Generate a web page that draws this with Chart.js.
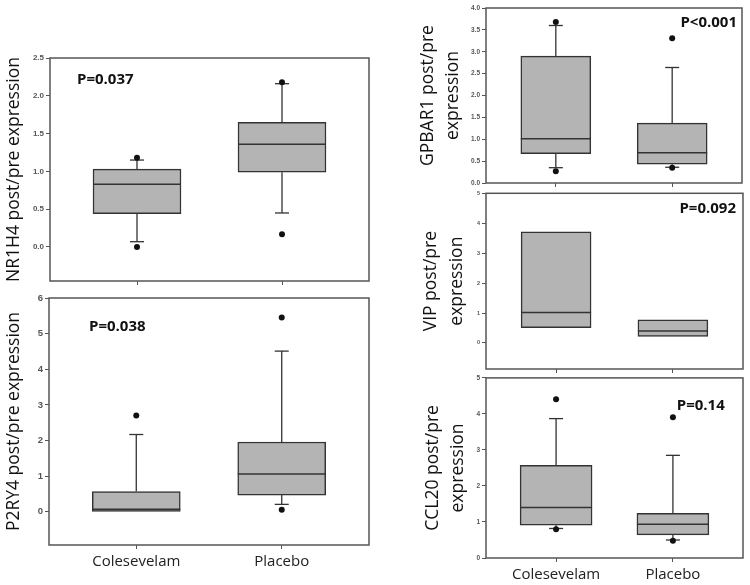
<!DOCTYPE html>
<html>
<head>
<meta charset="utf-8">
<script src="https://cdn.jsdelivr.net/npm/chart.js@4.4.1/dist/chart.umd.min.js"></script>
<style>
  html, body { margin: 0; padding: 0; background: #fff; }
  body { width: 750px; height: 585px; position: relative; overflow: hidden; }
  canvas { position: absolute; }
</style>
</head>
<body>
<canvas id="nr1h4"></canvas>
<canvas id="p2ry4"></canvas>
<canvas id="gpbar1"></canvas>
<canvas id="vip"></canvas>
<canvas id="ccl20"></canvas>
<script>
const groups = ['Colesevelam', 'Placebo'];

// each box: [lower whisker, Q1, median, Q3, upper whisker]
const nr1h4Box = [[0.07, 0.44, 0.83, 1.03, 1.15], [0.45, 0.99, 1.36, 1.65, 2.16]];
const nr1h4Out = [[0.00, 1.18], [0.17, 2.18]];
const nr1h4Ticks = [0, 0.5, 1.0, 1.5, 2.0, 2.5];

const p2ry4Box = [[null, 0.00, 0.075, 0.57, 2.17], [0.21, 0.47, 1.06, 1.96, 4.51]];
const p2ry4Out = [[2.70], [0.06, 5.45]];
const p2ry4Ticks = [0, 1, 2, 3, 4, 5, 6];

const gpbar1Box = [[0.35, 0.67, 1.01, 2.90, 3.60], [0.36, 0.43, 0.69, 1.37, 2.64]];
const gpbar1Out = [[0.27, 3.68], [0.35, 3.31]];
const gpbar1Ticks = [0, 0.5, 1.0, 1.5, 2.0, 2.5, 3.0, 3.5, 4.0];

const vipBox = [[null, 0.51, 1.02, 3.71, null], [null, 0.22, 0.40, 0.77, null]];
const vipOut = [[], []];
const vipTicks = [0, 1, 2, 3, 4, 5];

const ccl20Box = [[0.82, 0.91, 1.40, 2.57, 3.87], [0.50, 0.64, 0.94, 1.24, 2.85]];
const ccl20Out = [[0.80, 4.41], [0.48, 3.91]];
const ccl20Ticks = [0, 1, 2, 3, 4, 5];

const pLabels = ['P=0.037', 'P=0.038', 'P<0.001', 'P=0.092', 'P=0.14'];

const INK = '#333';

const framePlugin = {
  id: 'frame',
  afterDraw(chart) {
    const a = chart.chartArea, ctx = chart.ctx;
    ctx.save();
    ctx.strokeStyle = '#555';
    ctx.lineWidth = 1.5;
    ctx.strokeRect(a.left, a.top, a.right - a.left, a.bottom - a.top);
    ctx.restore();
  }
};

const pValuePlugin = {
  id: 'pvalue',
  afterDraw(chart, args, opts) {
    const ctx = chart.ctx;
    ctx.save();
    ctx.font = 'bold 15px "Open Sans"';
    ctx.fillStyle = '#111';
    ctx.textAlign = opts.align;
    ctx.textBaseline = 'middle';
    ctx.fillText(opts.text, chart.scales.x.getPixelForValue(opts.x), chart.scales.y.getPixelForValue(opts.y));
    ctx.restore();
  }
};

function boxDatasets(box, out, boxW) {
  const whisk = [], caps = [];
  box.forEach((s, i) => {
    const x = i + 1;
    if (s[4] != null) { whisk.push({x, y: s[3]}, {x, y: s[4]}, {x, y: null}); caps.push({x, y: s[4]}); }
    if (s[0] != null) { whisk.push({x, y: s[1]}, {x, y: s[0]}, {x, y: null}); caps.push({x, y: s[0]}); }
  });
  return [
    { type: 'line', data: whisk, borderColor: INK, borderWidth: 1.3, pointRadius: 0, spanGaps: false, order: 5 },
    { type: 'bar', data: box.map((s, i) => ({x: i + 1, y: [s[1], s[3]]})),
      backgroundColor: '#b4b4b4', borderColor: INK, borderWidth: 1.5, borderSkipped: false, barThickness: boxW, order: 4 },
    { type: 'scatter', data: box.map((s, i) => ({x: i + 1, y: s[2]})),
      pointStyle: 'line', pointRadius: boxW / 2, borderColor: INK, borderWidth: 1.5, order: 3 },
    { type: 'scatter', data: caps, pointStyle: 'line', pointRadius: 7, borderColor: INK, borderWidth: 1.3, order: 2 },
    { type: 'scatter', data: out.flatMap((o, i) => o.map(v => ({x: i + 1, y: v}))),
      pointRadius: 3, backgroundColor: '#111', borderColor: '#111', borderWidth: 0, order: 1 }
  ];
}

function panel(id, c) {
  const el = document.getElementById(id);
  el.width = c.w; el.height = c.h;
  el.style.left = c.left + 'px'; el.style.top = c.top + 'px';
  new Chart(el, {
    type: 'bar',
    data: { datasets: boxDatasets(c.box, c.out, c.boxW) },
    plugins: [framePlugin, pValuePlugin],
    options: {
      responsive: false, devicePixelRatio: 1, animation: false, events: [],
      layout: { padding: c.pad, autoPadding: false },
      plugins: { legend: { display: false }, tooltip: { enabled: false },
        pvalue: { text: c.pText, x: c.pX, y: c.pY, align: c.pAlign } },
      scales: {
        x: {
          type: 'linear', min: 0.4, max: 2.6, offset: false,
          afterBuildTicks: s => { s.ticks = [{value: 1}, {value: 2}]; },
          afterFit: s => { s.height = c.xh; },
          grid: { drawOnChartArea: false, drawTicks: true, tickLength: 4, tickColor: '#555', offset: false },
          border: { display: false },
          ticks: { display: c.showX, autoSkip: false, maxRotation: 0, padding: 4,
            font: { family: 'Open Sans', size: 15 }, color: '#222', callback: v => groups[v - 1] }
        },
        y: {
          min: c.min, max: c.max,
          afterBuildTicks: s => { s.ticks = c.ticks.map(v => ({value: v})); },
          afterFit: s => { s.width = c.yw; },
          grid: { drawOnChartArea: false, tickLength: 4, tickColor: '#555' },
          border: { display: false },
          ticks: { padding: 2, font: { family: 'Liberation Sans', size: c.tickSize, weight: 'bold' },
            color: '#555', callback: v => v.toFixed(c.dec) },
          title: { display: true, text: c.title, color: '#111',
            font: { family: 'Open Sans', size: 17.5, lineHeight: c.lineH },
            padding: { top: c.titlePad, bottom: 0 } }
        }
      }
    }
  });
}

panel('nr1h4', { left: 0, top: 50, w: 380, h: 240, yw: 50, xh: 9, pad: {top: 8, right: 11, bottom: 0, left: 0},
  box: nr1h4Box, out: nr1h4Out, ticks: nr1h4Ticks, min: -0.45, max: 2.5, dec: 1, tickSize: 8, boxW: 88,
  title: 'NR1H4 post/pre expression', lineH: 1.2, titlePad: 3.5, showX: false,
  pText: pLabels[0], pX: 0.586, pY: 2.21, pAlign: 'left' });

panel('p2ry4', { left: 0, top: 290, w: 380, h: 295, yw: 49, xh: 40, pad: {top: 8, right: 11, bottom: 0, left: 0},
  box: p2ry4Box, out: p2ry4Out, ticks: p2ry4Ticks, min: -0.93, max: 6, dec: 0, tickSize: 9.5, boxW: 88,
  title: 'P2RY4 post/pre expression', lineH: 1.2, titlePad: 3.5, showX: true,
  pText: pLabels[1], pX: 0.675, pY: 5.18, pAlign: 'left' });

panel('gpbar1', { left: 400, top: 0, w: 350, h: 190, yw: 86, xh: 7, pad: {top: 8, right: 8, bottom: 0, left: 0},
  box: gpbar1Box, out: gpbar1Out, ticks: gpbar1Ticks, min: 0, max: 4, dec: 1, tickSize: 6.5, boxW: 70,
  title: ['GPBAR1 post/pre', 'expression'], lineH: 1.43, titlePad: 15.5, showX: false,
  pText: pLabels[2], pX: 2.557, pY: 3.67, pAlign: 'right' });

panel('vip', { left: 400, top: 188, w: 350, h: 188, yw: 86, xh: 7, pad: {top: 4, right: 7, bottom: 0, left: 0},
  box: vipBox, out: vipOut, ticks: vipTicks, min: -0.87, max: 5, dec: 0, tickSize: 5.5, boxW: 70,
  title: ['VIP post/pre', 'expression'], lineH: 1.43, titlePad: 19, showX: false,
  pText: pLabels[3], pX: 2.54, pY: 4.49, pAlign: 'right' });

panel('ccl20', { left: 400, top: 372, w: 350, h: 213, yw: 86, xh: 27, pad: {top: 4, right: 7, bottom: 0, left: 0},
  box: ccl20Box, out: ccl20Out, ticks: ccl20Ticks, min: 0, max: 5, dec: 0, tickSize: 6.5, boxW: 72,
  title: ['CCL20 post/pre', 'expression'], lineH: 1.43, titlePad: 20.5, showX: true,
  pText: pLabels[4], pX: 2.033, pY: 4.24, pAlign: 'left' });
</script>
</body>
</html>
